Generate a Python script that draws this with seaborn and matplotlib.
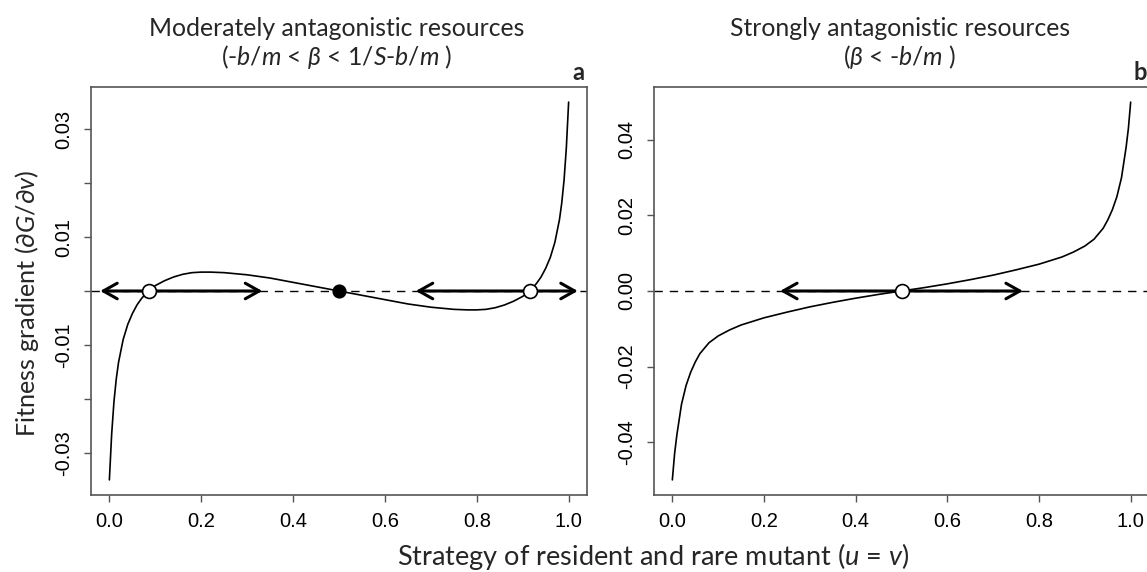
import matplotlib
matplotlib.use("Agg")
import matplotlib.pyplot as plt
import seaborn as sns
import pandas as pd

# panel a: moderately antagonistic resources
strategy_a = [0.0, 0.005, 0.01, 0.015, 0.02, 0.03, 0.04, 0.05, 0.06, 0.07, 0.08, 0.09,
              0.10, 0.12, 0.14, 0.16, 0.18, 0.20, 0.22, 0.25, 0.30, 0.35, 0.40, 0.45,
              0.50, 0.55, 0.60, 0.65, 0.70, 0.75, 0.78, 0.80, 0.82, 0.84, 0.86, 0.88,
              0.90, 0.91, 0.92, 0.93, 0.94, 0.95, 0.96, 0.97, 0.98, 0.985, 0.99, 0.995, 1.0]
gradient_a = [-0.0350, -0.0265, -0.0205, -0.0163, -0.0132, -0.0090, -0.0062, -0.0042,
              -0.0026, -0.0014, -0.0004, 0.0004, 0.0010, 0.0019, 0.0026, 0.0031, 0.0034,
              0.0035, 0.0035, 0.0034, 0.0030, 0.0024, 0.0016, 0.0008, 0.0, -0.0008,
              -0.0016, -0.0024, -0.0030, -0.0034, -0.0035, -0.0035, -0.0034, -0.0031,
              -0.0026, -0.0019, -0.0010, -0.0004, 0.0004, 0.0014, 0.0026, 0.0042, 0.0062,
              0.0090, 0.0132, 0.0163, 0.0205, 0.0265, 0.0350]
singular_a = [0.0865, 0.5, 0.915]
singular_a_stable = [False, True, False]
arrows_a = [(-0.02, 0.333), (0.667, 1.02)]  # double headed

# panel b: strongly antagonistic resources
strategy_b = [0.0, 0.005, 0.01, 0.02, 0.03, 0.04, 0.05, 0.06, 0.08, 0.10, 0.125, 0.15,
              0.20, 0.25, 0.30, 0.35, 0.40, 0.45, 0.50, 0.55, 0.60, 0.65, 0.70, 0.75,
              0.80, 0.85, 0.875, 0.90, 0.92, 0.94, 0.95, 0.96, 0.97, 0.98, 0.99, 0.995, 1.0]
gradient_b = [-0.050, -0.043, -0.038, -0.030, -0.025, -0.0215, -0.0188, -0.0166, -0.0137,
              -0.0119, -0.0103, -0.0090, -0.0071, -0.0056, -0.0042, -0.0030, -0.0019,
              -0.0009, 0.0, 0.0009, 0.0019, 0.0030, 0.0042, 0.0056, 0.0071, 0.0090,
              0.0103, 0.0119, 0.0137, 0.0166, 0.0188, 0.0215, 0.025, 0.030, 0.038, 0.043, 0.050]
singular_b = [0.5]
arrows_b = [(0.5, 0.235), (0.5, 0.765)]  # single headed, pointing away

xticks = [0.0, 0.2, 0.4, 0.6, 0.8, 1.0]
yticks_a = [-0.03, -0.02, -0.01, 0.0, 0.01, 0.02, 0.03]
ytick_labels_a = ["-0.03", "", "-0.01", "", "0.01", "", "0.03"]
yticks_b = [-0.04, -0.02, 0.0, 0.02, 0.04]
ytick_labels_b = ["-0.04", "-0.02", "0.00", "0.02", "0.04"]

sns.set_style("ticks")
plt.rcParams["font.family"] = ["Liberation Sans", "DejaVu Sans"]
plt.rcParams["mathtext.fontset"] = "custom"
plt.rcParams["mathtext.rm"] = "Lato"
plt.rcParams["mathtext.it"] = "Lato:italic"

W, H = 1147, 572
fig = plt.figure(figsize=(W / 100, H / 100), dpi=100)
ax_a = fig.add_axes([91 / W, 77 / H, 496 / W, 408 / H])
ax_b = fig.add_axes([654 / W, 77 / H, 495 / W, 408 / H])

spine_col = "#555555"
label_font = "Lato"


def style_axes(ax, yticks, ylabels, ylim):
    ax.set_xlim(-0.04, 1.04)
    ax.set_ylim(*ylim)
    ax.set_xticks(xticks)
    ax.set_xticklabels([f"{t:.1f}" for t in xticks])
    ax.set_yticks(yticks)
    ax.set_yticklabels(ylabels)
    for s in ax.spines.values():
        s.set_visible(True)
        s.set_color(spine_col)
        s.set_linewidth(1.2)
    ax.tick_params(axis="both", direction="out", length=5, width=1.0, color=spine_col,
                   labelsize=14.5, labelcolor="black")
    ax.tick_params(axis="x", pad=7)
    ax.tick_params(axis="y", pad=8)
    for lab in ax.get_yticklabels():
        lab.set_rotation(90)
        lab.set_va("center")
    ax.set_xlabel("")
    ax.set_ylabel("")
    ax.axhline(0, color="black", lw=1.0, dashes=(6, 5), zorder=1)


def draw_arrow(ax, x0, x1, style):
    ax.annotate("", xy=(x1, 0), xytext=(x0, 0),
                arrowprops=dict(arrowstyle=style + ",head_length=0.5,head_width=0.28",
                                color="black", lw=2.2, mutation_scale=20,
                                shrinkA=0, shrinkB=0),
                zorder=3)


# panel a
df_a = pd.DataFrame({"u": strategy_a, "g": gradient_a})
sns.lineplot(data=df_a, x="u", y="g", ax=ax_a, color="black", lw=1.2, sort=False, zorder=2)
style_axes(ax_a, yticks_a, ytick_labels_a, (-0.0378, 0.0378))
for x0, x1 in arrows_a:
    draw_arrow(ax_a, x0, x1, "<->")
for xs, stable in zip(singular_a, singular_a_stable):
    ax_a.plot([xs], [0], "o", ms=10 if not stable else 9,
              mfc="black" if stable else "white", mec="black", mew=1.2, zorder=5)

# panel b
df_b = pd.DataFrame({"u": strategy_b, "g": gradient_b})
sns.lineplot(data=df_b, x="u", y="g", ax=ax_b, color="black", lw=1.2, sort=False, zorder=2)
style_axes(ax_b, yticks_b, ytick_labels_b, (-0.054, 0.054))
for x0, x1 in arrows_b:
    draw_arrow(ax_b, x0, x1, "->")
for xs in singular_b:
    ax_b.plot([xs], [0], "o", ms=10, mfc="white", mec="black", mew=1.2, zorder=5)

# titles
title_size = 17.8
fig.text(337 / W, 1 - 28 / H, "Moderately antagonistic resources", family=label_font,
         fontsize=title_size, ha="center", va="center")
fig.text(337 / W, 1 - 57 / H, r"(-$b$/$m$ < $\beta$ < 1/$S$-$b$/$m$ )", family=label_font,
         fontsize=title_size, ha="center", va="center")
fig.text(900 / W, 1 - 28 / H, "Strongly antagonistic resources", family=label_font,
         fontsize=title_size, ha="center", va="center")
fig.text(900 / W, 1 - 57 / H, r"($\beta$ < -$b$/$m$ )", family=label_font,
         fontsize=title_size, ha="center", va="center")
fig.text(578 / W, 1 - 73 / H, "a", family=label_font, fontweight="bold",
         fontsize=17, ha="center", va="center")
fig.text(1140 / W, 1 - 73 / H, "b", family=label_font, fontweight="bold",
         fontsize=17, ha="center", va="center")

# shared axis labels
fig.text(27 / W, 1 - 303 / H, r"Fitness gradient ($\partial G/\partial v$)", family=label_font,
         fontsize=18.2, ha="center", va="center", rotation=90)
fig.text(653 / W, 1 - 556 / H, r"Strategy of resident and rare mutant ($u$ = $v$)",
         family=label_font, fontsize=19.5, ha="center", va="center")

fig.savefig("out.png", dpi=100)
